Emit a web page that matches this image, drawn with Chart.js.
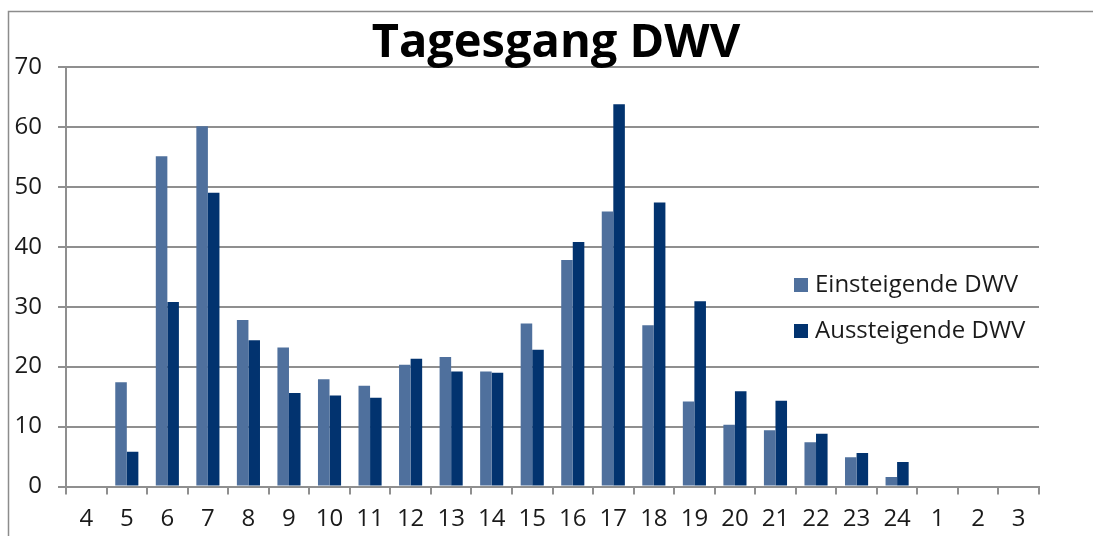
<!DOCTYPE html>
<html>
<head>
<meta charset="utf-8">
<script src="https://cdn.jsdelivr.net/npm/chart.js@4/dist/chart.umd.min.js"></script>
<style>
  html, body { margin: 0; padding: 0; background: #ffffff; }
  #wrap { width: 1093px; height: 536px; }
</style>
</head>
<body>
<div id="wrap"><canvas id="c" width="1093" height="536"></canvas></div>
<script>
const chartTitle = "Tagesgang DWV";
const categories = ["4","5","6","7","8","9","10","11","12","13","14","15","16","17","18","19","20","21","22","23","24","1","2","3"];
const seriesLabels = ["Einsteigende DWV", "Aussteigende DWV"];
const einsteigende = [null, 17.4, 55.1, 60.1, 27.8, 23.2, 17.9, 16.8, 20.3, 21.6, 19.2, 27.2, 37.8, 45.9, 26.9, 14.2, 10.3, 9.4, 7.4, 4.9, 1.6, null, null, null];
const aussteigende = [null, 5.8, 30.8, 49.0, 24.4, 15.6, 15.2, 14.8, 21.3, 19.2, 19.0, 22.8, 40.8, 63.8, 47.4, 30.9, 15.9, 14.3, 8.8, 5.6, 4.1, null, null, null];
const yTicks = [0, 10, 20, 30, 40, 50, 60, 70];

const colors = ["#4F709D", "#02336F"];
const gridColor = "#8f8f8f";
const FONT = "'Open Sans', 'DejaVu Sans', sans-serif";

const framePlugin = {
  id: 'frame',
  beforeDraw(chart) {
    const ctx = chart.ctx;
    ctx.save();
    ctx.fillStyle = '#ffffff';
    ctx.fillRect(0, 0, chart.width, chart.height);
    ctx.strokeStyle = '#8c8c8c';
    ctx.lineWidth = 1.5;
    ctx.strokeRect(8.5, 11.5, 1200, 700);
    ctx.restore();
  },
  afterDraw(chart) {
    const ctx = chart.ctx;
    ctx.save();
    // title
    ctx.fillStyle = '#000000';
    ctx.font = "bold 47px " + FONT;
    ctx.textAlign = 'center';
    ctx.textBaseline = 'alphabetic';
    ctx.fillText(chartTitle, 556, 57);
    // legend
    ctx.font = "24px " + FONT;
    ctx.textAlign = 'left';
    ctx.textBaseline = 'middle';
    const ys = [285, 331];
    chart.data.datasets.forEach((ds, i) => {
      ctx.fillStyle = ds.backgroundColor;
      ctx.fillRect(794, ys[i] - 7, 14, 14);
      ctx.fillStyle = '#1a1a1a';
      ctx.fillText(ds.label, 815, ys[i]);
    });
    ctx.restore();
  }
};

new Chart(document.getElementById('c'), {
  type: 'bar',
  data: {
    labels: categories,
    datasets: [
      { label: seriesLabels[0], data: einsteigende, backgroundColor: colors[0], borderWidth: 0 },
      { label: seriesLabels[1], data: aussteigende, backgroundColor: colors[1], borderWidth: 0 }
    ]
  },
  options: {
    responsive: false,
    animation: false,
    devicePixelRatio: 1,
    layout: { padding: { top: 67, left: 0, right: 54, bottom: 0 } },
    datasets: { bar: { categoryPercentage: 0.57, barPercentage: 1.0 } },
    plugins: {
      legend: { display: false },
      title: { display: false },
      tooltip: { enabled: false }
    },
    scales: {
      x: {
        grid: { display: true, drawOnChartArea: false, drawTicks: true, tickLength: 8, color: gridColor, lineWidth: 2, offset: true },
        border: { display: true, color: gridColor, width: 2 },
        ticks: { color: '#1a1a1a', font: { family: FONT, size: 24 }, padding: 10, maxRotation: 0, autoSkip: false },
        afterFit(scale) { scale.height = 49.5; }
      },
      y: {
        min: 0, max: 70,
        afterBuildTicks(scale) { scale.ticks = yTicks.map(v => ({ value: v })); },
        grid: { color: gridColor, lineWidth: 2, tickLength: 8, drawTicks: true },
        border: { display: true, color: gridColor, width: 2 },
        ticks: { color: '#1a1a1a', font: { family: FONT, size: 24 }, padding: 16 },
        afterFit(scale) { scale.width = 66; }
      }
    }
  },
  plugins: [framePlugin]
});
</script>
</body>
</html>
